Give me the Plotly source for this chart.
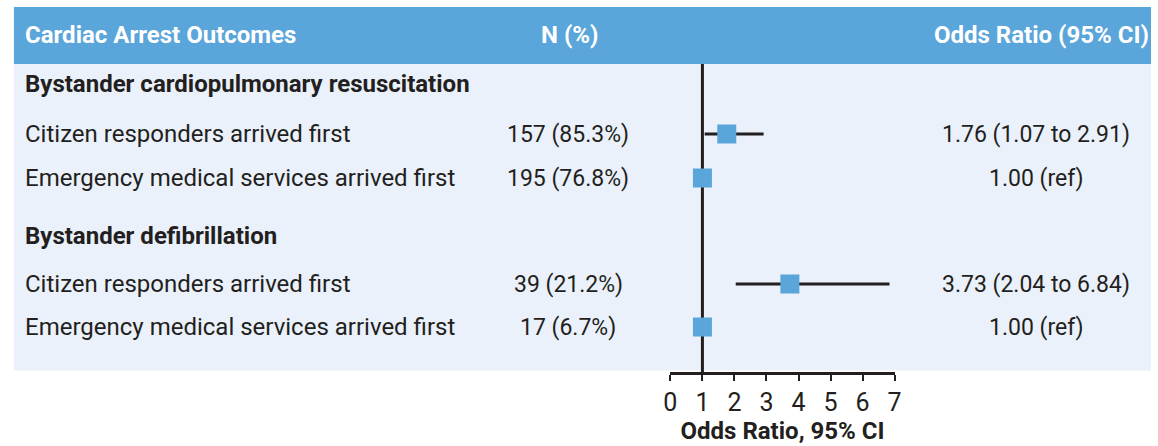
import plotly.graph_objects as go

# ---- data ----
groups = ["Bystander cardiopulmonary resuscitation", "Bystander defibrillation"]
row_labels = ["Citizen responders arrived first", "Emergency medical services arrived first",
              "Citizen responders arrived first", "Emergency medical services arrived first"]
row_group = [0, 0, 1, 1]
n_text = ["157 (85.3%)", "195 (76.8%)", "39 (21.2%)", "17 (6.7%)"]
odds_ratio = [1.76, 1.00, 3.73, 1.00]
ci_low = [1.07, None, 2.04, None]
ci_high = [2.91, None, 6.84, None]
or_text = ["1.76 (1.07 to 2.91)", "1.00 (ref)", "3.73 (2.04 to 6.84)", "1.00 (ref)"]
tick_vals = [0, 1, 2, 3, 4, 5, 6, 7]
header = ["Cardiac Arrest Outcomes", "N (%)", "Odds Ratio (95% CI)"]

# ---- layout constants (pixels) ----
W, H = 1158, 446
FONT = "Roboto"
FS = 24
FS_NUM = 23
DARK = "#231F20"
BLUE = "#5AA5DA"
PANEL = "#EAF1FA"
group_y = [84, 236]
row_y = [134, 178, 284, 327]
AX_Y = 373
X0_PX, X7_PX = 671.5, 898.5
LEFT_TXT = 16
RECT_L = 7

fig = go.Figure()

err_plus = [(h - o) if h is not None else 0 for h, o in zip(ci_high, odds_ratio)]
err_minus = [(o - l) if l is not None else 0 for l, o in zip(ci_low, odds_ratio)]

fig.add_trace(go.Scatter(
    x=odds_ratio, y=row_y, mode="markers",
    marker=dict(symbol="square", size=19, color=BLUE, line=dict(width=0)),
    error_x=dict(type="data", array=err_plus, arrayminus=err_minus,
                 color=DARK, thickness=3, width=0, symmetric=False),
    cliponaxis=False, showlegend=False, hoverinfo="skip"))

shapes = [
    dict(type="rect", xref="paper", yref="y", x0=RECT_L / W, x1=1, y0=7, y1=64,
         fillcolor=BLUE, line=dict(width=0), layer="below"),
    dict(type="rect", xref="paper", yref="y", x0=RECT_L / W, x1=1, y0=64, y1=370.5,
         fillcolor=PANEL, line=dict(width=0), layer="below"),
    dict(type="line", xref="x", yref="y", x0=1, x1=1, y0=64, y1=AX_Y,
         line=dict(color=DARK, width=3), layer="below"),
]

ann = []
ann.append(dict(text="<b>" + header[0] + "</b>", x=LEFT_TXT / W, xanchor="left", y=35,
                font=dict(color="white", size=FS, family=FONT)))
ann.append(dict(text="<b>" + header[1] + "</b>", x=569 / W, xanchor="center", y=35,
                font=dict(color="white", size=FS, family=FONT)))
ann.append(dict(text="<b>" + header[2] + "</b>", x=1158 / W, xanchor="right", y=35,
                font=dict(color="white", size=FS, family=FONT)))
for g, gy in zip(groups, group_y):
    ann.append(dict(text="<b>" + g + "</b>", x=LEFT_TXT / W, xanchor="left", y=gy,
                    font=dict(color=DARK, size=FS, family=FONT)))
for lab, ny, ortx, ry in zip(row_labels, n_text, or_text, row_y):
    ann.append(dict(text=lab, x=LEFT_TXT / W, xanchor="left", y=ry,
                    font=dict(color=DARK, size=FS, family=FONT)))
    ann.append(dict(text=ny, x=568 / W, xanchor="center", y=ry,
                    font=dict(color=DARK, size=FS_NUM, family=FONT)))
    ann.append(dict(text=ortx, x=1042 / W, xanchor="center", y=ry,
                    font=dict(color=DARK, size=FS_NUM, family=FONT)))
for a in ann:
    a.update(xref="paper", yref="y", yanchor="middle", showarrow=False)

fig.update_layout(
    width=W, height=H, margin=dict(l=0, r=0, t=0, b=0),
    paper_bgcolor="white", plot_bgcolor="rgba(0,0,0,0)",
    shapes=shapes, annotations=ann,
    xaxis=dict(domain=[X0_PX / W, X7_PX / W], range=[0, 7],
               tickvals=tick_vals, ticktext=[str(t) for t in tick_vals],
               showgrid=False, zeroline=False, showline=True, linecolor=DARK, linewidth=3,
               ticks="outside", ticklen=6, tickwidth=2, tickcolor=DARK,
               tickfont=dict(size=FS + 1, family=FONT, color=DARK),
               anchor="free", position=(H - AX_Y) / H,
               title=dict(text="<b>Odds Ratio, 95% CI</b>", standoff=6,
                          font=dict(size=FS, family=FONT, color=DARK))),
    yaxis=dict(domain=[0, 1], range=[H, 0], visible=False, showgrid=False, zeroline=False),
)

fig.write_html("out.html", config={"displayModeBar": False},
               post_script="document.body.style.margin='0';document.body.style.overflow='hidden';")
